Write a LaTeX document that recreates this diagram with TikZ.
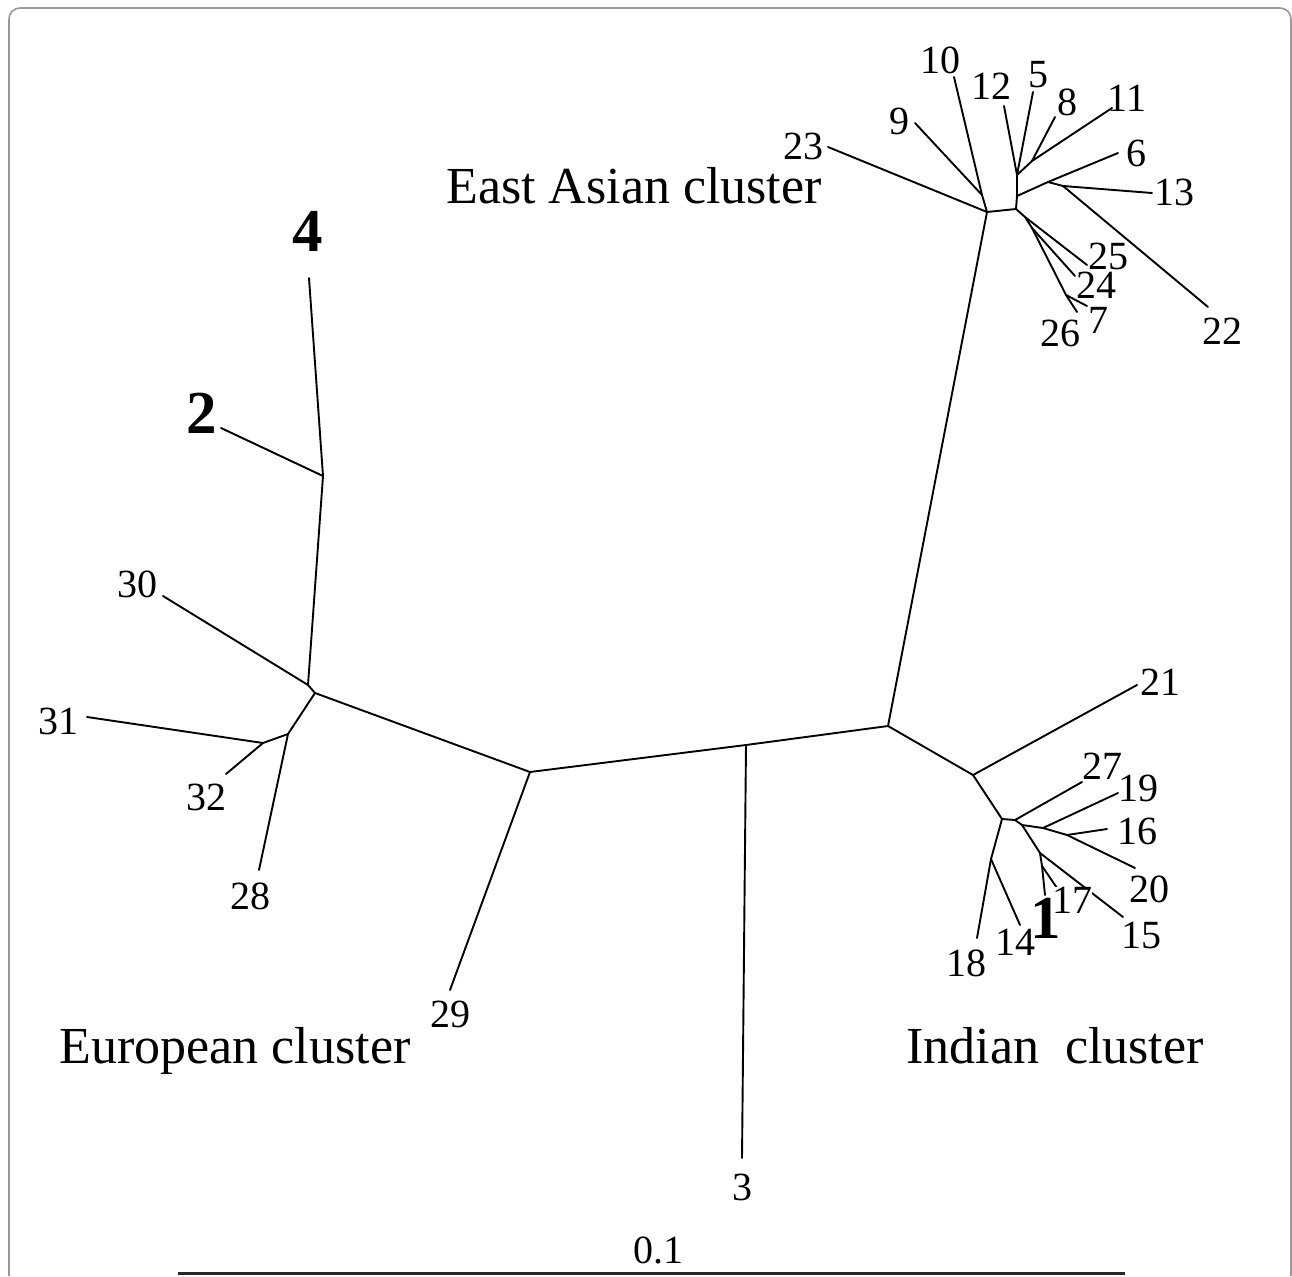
\documentclass[tikz,border=0pt]{standalone}
\usepackage{fontspec}
\setmainfont{Liberation Serif}
\begin{document}
\begin{tikzpicture}[x=1pt,y=-1pt,
  br/.style={line width=1.9pt, line cap=round, line join=round},
  num/.style={inner sep=0pt, font=\fontsize{40}{40}\selectfont},
  big/.style={inner sep=0pt, font=\fontsize{61}{61}\selectfont\bfseries},
  clu/.style={inner sep=0pt, anchor=base, font=\fontsize{52}{52}\selectfont},
  frame/.style={draw=black!40, line width=1.6pt, rounded corners=11pt}]
\useasboundingbox (0,0) rectangle (1292,1276);
% frame
\coordinate (f1) at (9,1276);
\coordinate (f2) at (9,8);
\coordinate (f3) at (1291,8);
\coordinate (f4) at (1291,1276);
\draw[frame] (f1) -- (f2) -- (f3) -- (f4);
% ---- internal nodes ----
\coordinate (A1) at (308,685);
\coordinate (A2) at (315,693);
\coordinate (G) at (323,476);
\coordinate (E) at (288,734);
\coordinate (F) at (263,743);
\coordinate (B) at (530,772);
\coordinate (C) at (746,745);
\coordinate (D) at (888,726);
\coordinate (H1) at (987,212);
\coordinate (I) at (982,195);
\coordinate (H2) at (1016,209);
\coordinate (O) at (1017,196);
\coordinate (M) at (1017,175);
\coordinate (N) at (1032,161);
\coordinate (K) at (1048,182);
\coordinate (L) at (1063,186);
\coordinate (P) at (1025,217);
\coordinate (Q) at (1032,228);
\coordinate (R) at (1066,295);
\coordinate (S) at (973,775);
\coordinate (T1) at (1002,819);
\coordinate (T2) at (1015,820);
\coordinate (U) at (991,859);
\coordinate (V0) at (1022,825);
\coordinate (V) at (1043,828);
\coordinate (X) at (1067,835);
\coordinate (W) at (1040,853);
\coordinate (Y) at (1042,866);
% ---- tips ----
\coordinate (t1) at (1045,895);
\coordinate (t2) at (221,428);
\coordinate (t3) at (742,1158);
\coordinate (t4) at (309,278);
\coordinate (t5) at (1033,92);
\coordinate (t6) at (1118,153);
\coordinate (t7) at (1087,306);
\coordinate (t8) at (1055,117);
\coordinate (t9) at (915,123);
\coordinate (t10) at (954,77);
\coordinate (t11) at (1112,108);
\coordinate (t12) at (1004,106);
\coordinate (t13) at (1152,193);
\coordinate (t14) at (1020,925);
\coordinate (t15) at (1123,917);
\coordinate (t16) at (1107,829);
\coordinate (t17) at (1057,888);
\coordinate (t18) at (977,938);
\coordinate (t19) at (1118,793);
\coordinate (t20) at (1135,868);
\coordinate (t21) at (1137,685);
\coordinate (t22) at (1208,307);
\coordinate (t23) at (828,147);
\coordinate (t24) at (1075,276);
\coordinate (t25) at (1087,265);
\coordinate (t26) at (1077,312);
\coordinate (t27) at (1082,782);
\coordinate (t28) at (259,870);
\coordinate (t29) at (450,990);
\coordinate (t30) at (163,596);
\coordinate (t31) at (87,717);
\coordinate (t32) at (226,774);
% ---- branches ----
\draw[br] (A1) -- (A2);
\draw[br] (A1) -- (t30);
\draw[br] (A1) -- (G);
\draw[br] (G) -- (t4);
\draw[br] (G) -- (t2);
\draw[br] (A2) -- (E);
\draw[br] (E) -- (t28);
\draw[br] (E) -- (F);
\draw[br] (F) -- (t31);
\draw[br] (F) -- (t32);
\draw[br] (A2) -- (B);
\draw[br] (B) -- (t29);
\draw[br] (B) -- (C);
\draw[br] (C) -- (t3);
\draw[br] (C) -- (D);
\draw[br] (D) -- (H1);
\draw[br] (H1) -- (t23);
\draw[br] (H1) -- (I);
\draw[br] (I) -- (t10);
\draw[br] (I) -- (t9);
\draw[br] (H1) -- (H2);
\draw[br] (H2) -- (O);
\draw[br] (O) -- (M);
\draw[br] (M) -- (t12);
\draw[br] (M) -- (t5);
\draw[br] (M) -- (N);
\draw[br] (N) -- (t8);
\draw[br] (N) -- (t11);
\draw[br] (O) -- (K);
\draw[br] (K) -- (t6);
\draw[br] (K) -- (L);
\draw[br] (L) -- (t13);
\draw[br] (L) -- (t22);
\draw[br] (H2) -- (P);
\draw[br] (P) -- (t25);
\draw[br] (P) -- (Q);
\draw[br] (Q) -- (t24);
\draw[br] (Q) -- (R);
\draw[br] (R) -- (t7);
\draw[br] (R) -- (t26);
\draw[br] (D) -- (S);
\draw[br] (S) -- (t21);
\draw[br] (S) -- (T1);
\draw[br] (T1) -- (T2);
\draw[br] (T2) -- (t27);
\draw[br] (T1) -- (U);
\draw[br] (U) -- (t18);
\draw[br] (U) -- (t14);
\draw[br] (T2) -- (V0);
\draw[br] (V0) -- (V);
\draw[br] (V) -- (t19);
\draw[br] (V) -- (X);
\draw[br] (X) -- (t16);
\draw[br] (X) -- (t20);
\draw[br] (V0) -- (W);
\draw[br] (W) -- (t15);
\draw[br] (W) -- (Y);
\draw[br] (Y) -- (t1);
\draw[br] (Y) -- (t17);
% ---- labels ----
\node[num, fill=white, inner sep=0pt] (l17) at (1072,900) {17};
\node[big] (l1) at (1046,918) {1};
\node[big] (l2) at (202,413) {2};
\node[num] (l3) at (742,1187) {3};
\node[big] (l4) at (308,231) {4};
\node[num] (l5) at (1038,75) {5};
\node[num] (l6) at (1136,153) {6};
\node[num] (l7) at (1098,320) {7};
\node[num] (l8) at (1067,102) {8};
\node[num] (l9) at (899,121) {9};
\node[num] (l10) at (940,60) {10};
\node[num] (l11) at (1127,98) {11};
\node[num] (l12) at (991,86) {12};
\node[num] (l13) at (1174,192) {13};
\node[num] (l14) at (1015,942) {14};
\node[num] (l15) at (1141,935) {15};
\node[num] (l16) at (1137,831) {16};
\node[num] (l18) at (966,963) {18};
\node[num] (l19) at (1138,788) {19};
\node[num] (l20) at (1149,889) {20};
\node[num] (l21) at (1160,682) {21};
\node[num] (l22) at (1222,331) {22};
\node[num] (l23) at (803,146) {23};
\node[num] (l24) at (1096,285) {24};
\node[num] (l25) at (1108,256) {25};
\node[num] (l26) at (1060,333) {26};
\node[num] (l27) at (1102,766) {27};
\node[num] (l28) at (250,896) {28};
\node[num] (l29) at (450,1014) {29};
\node[num] (l30) at (137,584) {30};
\node[num] (l31) at (58,721) {31};
\node[num] (l32) at (206,797) {32};
% cluster labels
\node[clu] (eac) at (634,204) {East Asian cluster};
\node[clu] (euc) at (235,1063) {European cluster};
\node[clu] (inc) at (1055,1063) {Indian~~cluster};
% scale bar
\coordinate (sb1) at (178,1273);
\coordinate (sb2) at (1125,1273);
\draw[line width=3pt, black!85] (sb1) -- (sb2);
\node[num] (sbl) at (658,1250) {0.1};
\end{tikzpicture}
\end{document}
